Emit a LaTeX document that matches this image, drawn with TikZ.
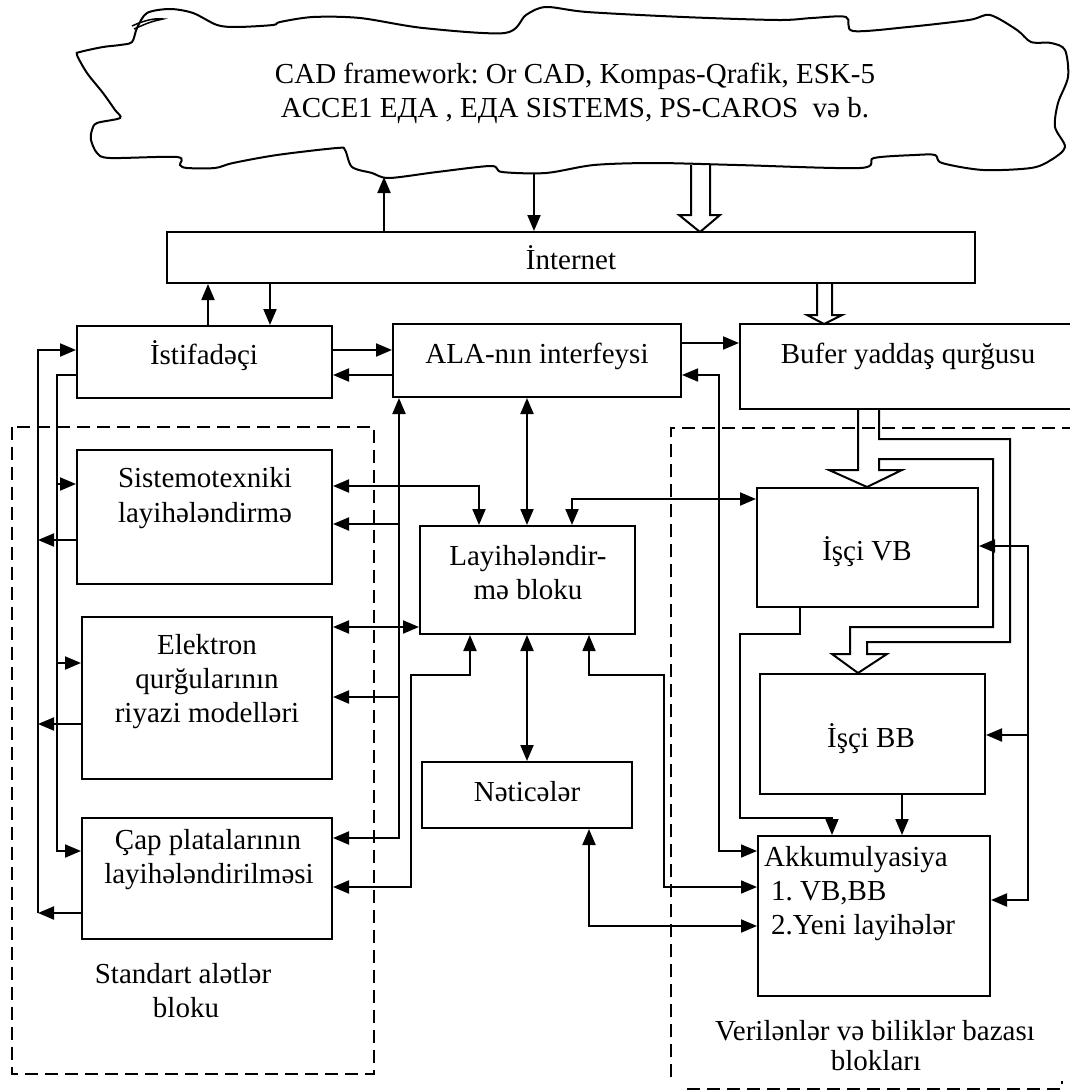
\documentclass[tikz,border=0pt]{standalone}
\usepackage{fontspec}
\setmainfont{Liberation Serif}
\usetikzlibrary{arrows.meta}
\frenchspacing
\begin{document}
\begin{tikzpicture}[x=1pt,y=-1pt,
  box/.style={draw, line width=2pt, rectangle, inner sep=0pt},
  txt/.style={font=\fontsize{29}{34}\selectfont\frenchspacing, inner sep=0pt, anchor=base},
  txtl/.style={txt, anchor=base west},
  conn/.style={line width=2pt},
  lthin/.style={line width=1.6pt},
  arr/.style={-{Triangle[length=16pt,width=13pt]}},
  darr/.style={{Triangle[length=16pt,width=13pt]}-{Triangle[length=16pt,width=13pt]}},
  grp/.style={line width=1.5pt, dash pattern=on 13pt off 7pt},
  hollow/.style={line width=2pt, line join=miter}
]
\useasboundingbox (0,0) rectangle (1070,1092);

% dashed group frames
\draw[grp] (12,427) rectangle (374,1074);
\draw[grp] (1075,428) -- (671,428) -- (671,1083);
\draw[grp] (687,1089) -- (1062,1089) -- (1062,1081);

% cloud
\draw[line width=2pt] plot[smooth cycle, tension=0.5] coordinates {
(137,28) (147,13) (170,9) (193,13) (217,25) (237,27) (273,25) (280,22) (313,17)
(360,18) (423,28) (505,33) (526,15) (546,7) (587,12) (683,17) (778,20) (812,18)
(846,17) (853,31) (908,27) (969,20) (990,15) (1017,30) (1031,42) (1051,43) (1065,50)
(1068,77) (1058,103) (1055,127) (1065,147) (1051,160) (1031,168) (983,170) (942,163)
(935,155) (915,155) (874,158) (860,168) (737,165) (655,163) (594,165) (546,173)
(502,172) (491,166) (437,172) (389,178) (372,173) (352,167) (345,150) (337,148)
(277,155) (233,163) (215,168) (187,168) (180,165) (177,157) (110,158) (97,153)
(91,140) (92,130) (97,123) (120,118) (115,110) (103,93) (87,73) (77,55) (80,52)
(103,47) (120,45) (132,42)};
\draw[line width=1.5pt] (132,26) .. controls (145,20) and (155,18) .. (163,19) .. controls (150,22) .. (134,29);
\node[txt] (cad1) at (575,83) {CAD framework: Or CAD, Kompas-Qrafik, ESK-5};
\node[txt] (cad2) at (575,117) {ACCE1 ЕДА , ЕДА SISTEMS, PS-CAROS\ \ və b.};
\coordinate (cl1) at (384,177);
\coordinate (cl2) at (534,174);

% boxes
\node[box, minimum width=808pt, minimum height=51pt] (inet) at (571,257.5) {};
\node[txt] (inetT) at (571,269) {İnternet};
\node[box, minimum width=255pt, minimum height=72pt] (ist) at (204.5,362) {};
\node[txt] (istT) at (204,364) {İstifadəçi};
\node[box, minimum width=288pt, minimum height=73pt] (ala) at (537,360.5) {};
\node[txt] (alaT) at (537,363) {ALA-nın interfeysi};
\node[box, minimum width=335pt, minimum height=85pt] (buf) at (907.5,366.5) {};
\node[txt] (bufT) at (908,363) {Bufer yaddaş qurğusu};
\node[box, minimum width=255pt, minimum height=134pt] (sist) at (204.5,517) {};
\node[txt] (sistT1) at (205,487) {Sistemotexniki};
\node[txt] (sistT2) at (205,522) {layihələndirmə};
\node[box, minimum width=250pt, minimum height=162pt] (elek) at (207,698) {};
\node[txt] (elekT1) at (207,654) {Elektron};
\node[txt] (elekT2) at (207,688) {qurğularının};
\node[txt] (elekT3) at (207,722) {riyazi modelləri};
\node[box, minimum width=250pt, minimum height=121pt] (cap) at (207,878.5) {};
\node[txt] (capT1) at (208,849) {Çap platalarının};
\node[txt] (capT2) at (209,883) {layihələndirilməsi};
\node[txt] (stdT1) at (183,983) {Standart alətlər};
\node[txt] (stdT2) at (186,1017) {bloku};
\node[box, minimum width=215pt, minimum height=108pt] (lay) at (527.5,580) {};
\node[txt] (layT1) at (528,565) {Layihələndir-};
\node[txt] (layT2) at (528,599) {mə bloku};
\node[box, minimum width=210pt, minimum height=66pt] (net) at (527,795) {};
\node[txt] (netT) at (527,801) {Nəticələr};
\node[box, minimum width=221pt, minimum height=119pt] (vb) at (867.5,547.5) {};
\node[txt] (vbT) at (867,560) {İşçi VB};
\node[box, minimum width=225pt, minimum height=120pt] (bb) at (872.5,734) {};
\node[txt] (bbT) at (871,747) {İşçi BB};
\node[box, minimum width=232pt, minimum height=160pt] (akk) at (874,916) {};
\node[txtl] (akkT1) at (764,866) {Akkumulyasiya};
\node[txtl] (akkT2) at (771,900) {1. VB,BB};
\node[txtl] (akkT3) at (771,934) {2.Yeni layihələr};
\node[txt] (vbbT1) at (875,1040) {Verilənlər və biliklər bazası};
\node[txt] (vbbT2) at (876,1070) {blokları};

% hollow arrows
\draw[hollow] (691,165) -- (691,215) -- (679,215) -- (700,232) -- (720,215) -- (710,215) -- (710,165);
\draw[hollow] (817,283) -- (817,315) -- (807,315) -- (824,324) -- (842,315) -- (832,315) -- (832,283);
\draw[hollow] (858,409) -- (858,470) -- (829,470) -- (867,487) -- (902,470) -- (879,470)
  -- (879,459) -- (993,459) -- (993,627) -- (850,627) -- (850,654) -- (832,654)
  -- (858,673) -- (887,654) -- (867,654) -- (867,642) -- (1010,642) -- (1010,439)
  -- (879,439) -- (879,409);

% cloud / internet / user
\draw[conn,arr] (inet.north -| 384,0) -- (cl1);
\draw[conn,arr] (cl2) -- (inet.north -| 534,0);
\draw[conn,arr] (ist.north -| 208,0) -- (inet.south -| 208,0);
\draw[conn,arr] (inet.south -| 270,0) -- (ist.north -| 270,0);
\draw[conn,arr] (ist.east |- 0,350) -- (ala.west |- 0,350);
\draw[conn,arr] (ala.west |- 0,375) -- (ist.east |- 0,375);
\draw[conn,arr] (ala.east |- 0,343) -- (buf.west |- 0,343);

% left outer bus
\draw[conn,arr] (38,913) -- (38,350) -- (ist.west |- 0,350);
\draw[conn,arr] (sist.west |- 0,540) -- (38,540);
\draw[conn,arr] (elek.west |- 0,724) -- (38,724);
\draw[conn,arr] (cap.west |- 0,913) -- (38,913);
% left inner bus
\draw[conn,arr] (ist.west |- 0,375) -- (57,375) -- (57,851) -- (cap.west |- 0,851);
\draw[conn,arr] (57,484) -- (sist.west |- 0,484);
\draw[conn,arr] (57,663) -- (elek.west |- 0,663);

% bus to ALA
\draw[conn,darr] (cap.east |- 0,838) -- (399,838) -- (ala.south -| 399,0);
\draw[conn,arr] (399,524) -- (sist.east |- 0,524);
\draw[conn,arr] (399,697) -- (elek.east |- 0,697);

% design block links
\draw[conn,darr] (ala.south -| 527,0) -- (lay.north -| 527,0);
\draw[conn,darr] (sist.east |- 0,486) -- (479,486) -- (lay.north -| 479,0);
\draw[conn,darr] (lay.north -| 572,0) -- (572,499) -- (vb.west |- 0,499);
\draw[conn,darr] (elek.east |- 0,627) -- (lay.west |- 0,627);
\draw[conn,darr] (cap.east |- 0,887) -- (411,887) -- (411,675) -- (470,675) -- (lay.south -| 470,0);
\draw[conn,darr] (lay.south -| 527,0) -- (net.north -| 527,0);
\draw[lthin,darr] (lay.south -| 589,0) -- (589,675) -- (664,675) -- (664,887) -- (akk.west |- 0,887);
\draw[conn,darr] (net.south -| 589,0) -- (589,926) -- (akk.west |- 0,926);
\draw[lthin,darr] (ala.east |- 0,375) -- (719,375) -- (719,851) -- (akk.west |- 0,851);

% right side
\draw[lthin,arr] (vb.south -| 800,0) -- (800,634) -- (740,634) -- (740,818) -- (832,818) -- (akk.north -| 832,0);
\draw[conn,arr] (bb.south -| 902,0) -- (akk.north -| 902,0);
\draw[conn,darr] (vb.east |- 0,546) -- (1028,546) -- (1028,900) -- (akk.east |- 0,900);
\draw[conn,arr] (1028,735) -- (bb.east |- 0,735);
\end{tikzpicture}
\end{document}
